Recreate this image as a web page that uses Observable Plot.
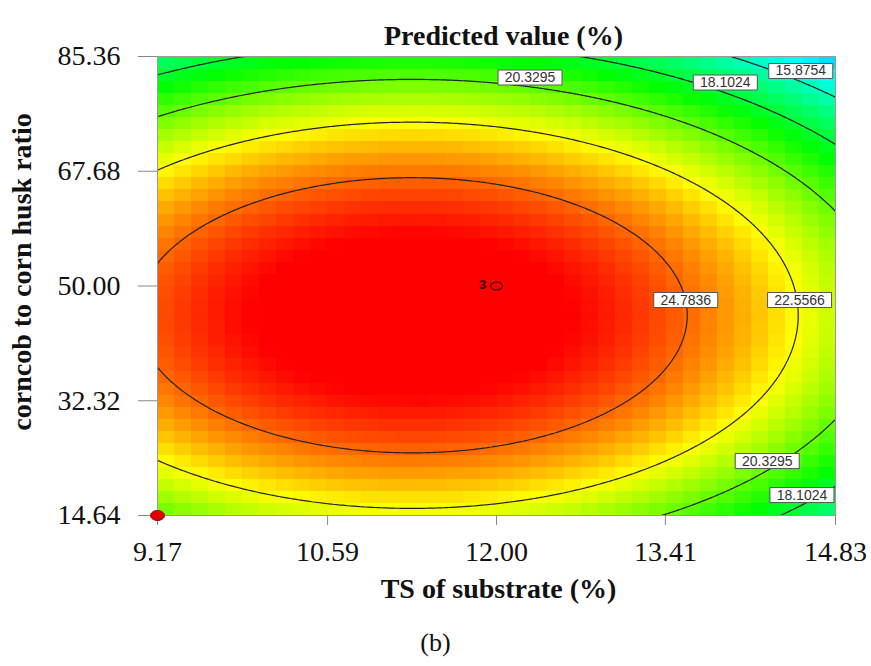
<!DOCTYPE html>
<html>
<head>
<meta charset="utf-8">
<script src="https://cdn.jsdelivr.net/npm/d3@7"></script>
<script src="https://cdn.jsdelivr.net/npm/@observablehq/plot@0.6"></script>
<style>
  html, body { margin: 0; padding: 0; background: #fff; }
  svg image { image-rendering: pixelated; }
</style>
</head>
<body>
<div id="chart"></div>
<script>
// ---- data ----
const xTicks = [9.17, 10.59, 12.00, 13.41, 14.83];
const xTickLabels = ["9.17", "10.59", "12.00", "13.41", "14.83"];
const yTicks = [14.64, 32.32, 50.00, 67.68, 85.36];
const yTickLabels = ["14.64", "32.32", "50.00", "67.68", "85.36"];
const xRange = [9.17, 14.83];
const yRange = [14.64, 85.36];
// quadratic response-surface coefficients (coded units): b0, A, B, A², B², AB
const modelCoef = [26.76, -1.735, -1.630, -3.488, -6.389, 0.0];
const contourLevels = [15.8754, 18.1024, 20.3295, 22.5566, 24.7836];
const labelLevel = [20.3295, 18.1024, 15.8754, 24.7836, 22.5566, 20.3295, 18.1024];
const labelX = [12.28, 13.91, 14.54, 13.58, 14.53, 14.26, 14.55];
const labelY = [82.12, 81.35, 83.13, 47.84, 47.84, 23.03, 17.79];
const designX = [12.00];
const designY = [50.00];
const designLabel = ["3"];
const redX = [9.17];
const redY = [14.64];
const colorStops = [9.5, 14.8, 18.9, 22.6, 26.3];
const colorRange = ["#0000ff", "#00ffff", "#00ff00", "#ffff00", "#ff0000"];

// ---- model ----
const cx = (xRange[0] + xRange[1]) / 2, hx = (xRange[1] - xRange[0]) / 2;
const cy = (yRange[0] + yRange[1]) / 2, hy = (yRange[1] - yRange[0]) / 2;
function f(x, y) {
  const a = (x - cx) / hx, b = (y - cy) / hy;
  const [b0, b1, b2, b11, b22, b12] = modelCoef;
  return b0 + b1 * a + b2 * b + b11 * a * a + b22 * b * b + b12 * a * b;
}

function ellipse(rx, ry) {
  const k = 0.5523;
  return {draw(ctx) {
    ctx.moveTo(rx, 0);
    ctx.bezierCurveTo(rx, ry * k, rx * k, ry, 0, ry);
    ctx.bezierCurveTo(-rx * k, ry, -rx, ry * k, -rx, 0);
    ctx.bezierCurveTo(-rx, -ry * k, -rx * k, -ry, 0, -ry);
    ctx.bezierCurveTo(rx * k, -ry, rx, -ry * k, rx, 0);
    ctx.closePath();
  }};
}
const boxSymbol = {draw(ctx) { ctx.rect(-32, -7.5, 64, 15); }};

const serif = "'Liberation Serif', 'Times New Roman', serif";
const sans = "'Liberation Sans', Arial, sans-serif";
const idx = labelLevel.map((_, i) => i);

const chart = Plot.plot({
  width: 871,
  height: 666,
  marginLeft: 157,
  marginRight: 36,
  marginTop: 56,
  marginBottom: 151,
  style: {fontFamily: serif, background: "#fff", color: "#111"},
  x: {domain: xRange, axis: null},
  y: {domain: yRange, axis: null},
  color: {type: "linear", domain: colorStops, range: colorRange, clamp: true, interpolate: "rgb"},
  marks: [
    Plot.raster({
      fill: (x, y) => f(x, y),
      x1: xRange[0], x2: xRange[1], y1: yRange[0], y2: yRange[1],
      width: 40, height: 38, imageRendering: "pixelated"
    }),
    Plot.contour({
      value: (x, y) => f(x, y),
      x1: xRange[0] - 0.4, x2: xRange[1] + 0.4, y1: yRange[0] - 6, y2: yRange[1] + 6,
      width: 400, height: 400,
      thresholds: contourLevels,
      fill: "none", stroke: "#222", strokeWidth: 1.2, clip: true
    }),
    Plot.frame({stroke: "#9a9a9a", strokeWidth: 1}),
    Plot.axisX(xTicks, {
      anchor: "bottom", tickSize: 10, tickPadding: 16, stroke: "#888",
      tickFormat: d => xTickLabels[xTicks.indexOf(d)],
      fontSize: 28, fontFamily: serif, fill: "#111", label: null
    }),
    Plot.axisY(yTicks, {
      anchor: "left", tickSize: 19, tickPadding: 18, stroke: "#888",
      tickFormat: d => yTickLabels[yTicks.indexOf(d)],
      fontSize: 28, fontFamily: serif, fill: "#111", label: null
    }),
    // contour labels
    Plot.dot(idx, {x: i => labelX[i], y: i => labelY[i], symbol: boxSymbol, fill: "white", stroke: "#555", strokeWidth: 1}),
    Plot.text(idx, {x: i => labelX[i], y: i => labelY[i], text: i => labelLevel[i].toFixed(4),
      fontSize: 14, fontFamily: sans, fill: "#333", letterSpacing: "1px"}),
    // design point
    Plot.dot(designX.map((_, i) => i), {x: i => designX[i], y: i => designY[i], symbol: ellipse(6, 4), fill: "none", stroke: "#3a0000", strokeWidth: 1.2}),
    Plot.text(designX.map((_, i) => i), {x: i => designX[i], y: i => designY[i], text: i => designLabel[i], dx: -14, dy: -1,
      fontSize: 13, fontWeight: "bold", fontFamily: sans, fill: "#300"}),
    Plot.dot(redX.map((_, i) => i), {x: i => redX[i], y: i => redY[i], symbol: ellipse(7, 5), fill: "#e00000", stroke: "#a00000", strokeWidth: 1}),
    // titles
    Plot.text(["Predicted value (%)"], {text: d => d, frameAnchor: "top", textAnchor: "middle", dx: 7, dy: -31, fontSize: 28, fontWeight: "bold", fontFamily: serif, fill: "#111"}),
    Plot.text(["TS of substrate (%)"], {text: d => d, frameAnchor: "bottom", textAnchor: "middle", dx: 2, dy: 82, fontSize: 28, fontWeight: "bold", fontFamily: serif, fill: "#111"}),
    Plot.text(["corncob to corn husk ratio"], {text: d => d, frameAnchor: "left", textAnchor: "middle", dx: -135, dy: -14, rotate: -90, fontSize: 28, fontWeight: "bold", fontFamily: serif, fill: "#111"}),
    Plot.text(["(b)"], {text: d => d, frameAnchor: "bottom", textAnchor: "middle", dx: -61, dy: 135, fontSize: 26, fontFamily: serif, fill: "#111"})
  ]
});
document.getElementById("chart").appendChild(chart);
</script>
</body>
</html>
